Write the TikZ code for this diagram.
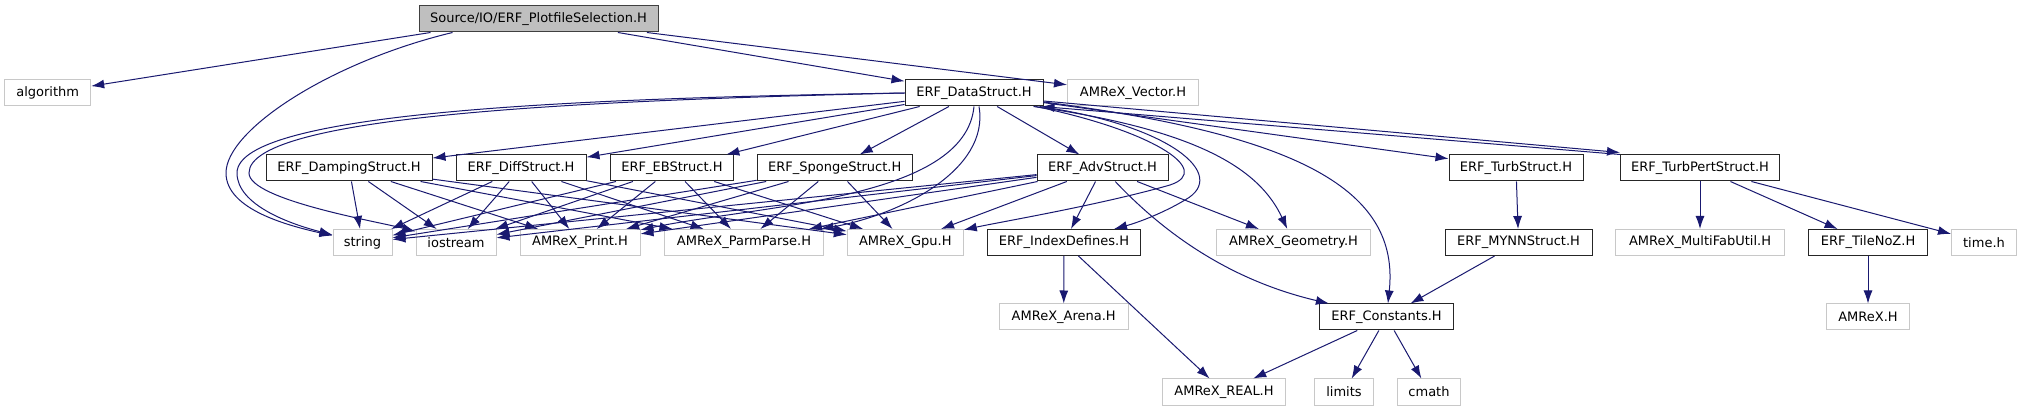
\documentclass[tikz,border=0pt]{standalone}
\usepackage{fontspec}
\setmainfont{DejaVu Sans}
\usetikzlibrary{arrows.meta}
\definecolor{edgeblue}{HTML}{191970}
\definecolor{rootfill}{HTML}{BFBFBF}
\definecolor{rootline}{HTML}{404040}
\definecolor{extline}{HTML}{C8C8C8}

\begin{document}
\begin{tikzpicture}[x=1pt,y=-1pt,
    every node/.style={font=\fontsize{13}{15}\selectfont, inner sep=0pt, minimum height=26pt},
    rootbox/.style={draw=rootline, line width=1pt, fill=rootfill},
    erfbox/.style={draw=black!85, line width=1pt, fill=white},
    extbox/.style={draw=extline, line width=1pt, fill=white},
    dep/.style={color=edgeblue, line width=1pt, -{Latex[length=13pt,width=9pt]}}]
    \fill[white] (0,0) rectangle (2021,411);
    \useasboundingbox (0,0) rectangle (2021,411);
    % Dibuja los nodos
    \node[rootbox, minimum width=239pt] (src) at (538.5,19) {Source/IO/ERF\_PlotfileSelection.H};
    \node[extbox, minimum width=86pt] (algo) at (47.7,93) {algorithm};
    \node[erfbox, minimum width=138pt] (data) at (974,93) {ERF\_DataStruct.H};
    \node[extbox, minimum width=131pt] (vec) at (1133,93) {AMReX\_Vector.H};
    \node[erfbox, minimum width=166pt] (damp) at (349,168) {ERF\_DampingStruct.H};
    \node[erfbox, minimum width=130pt] (diff) at (521,168) {ERF\_DiffStruct.H};
    \node[erfbox, minimum width=123pt] (eb) at (672,168) {ERF\_EBStruct.H};
    \node[erfbox, minimum width=155pt] (sponge) at (834.7,168) {ERF\_SpongeStruct.H};
    \node[erfbox, minimum width=131pt] (adv) at (1102.5,168) {ERF\_AdvStruct.H};
    \node[erfbox, minimum width=134pt] (turb) at (1516,168) {ERF\_TurbStruct.H};
    \node[erfbox, minimum width=159pt] (pert) at (1700,168) {ERF\_TurbPertStruct.H};
    \node[extbox, minimum width=59pt] (str) at (362.5,242.5) {string};
    \node[extbox, minimum width=80pt] (ios) at (456,242.5) {iostream};
    \node[extbox, minimum width=120pt] (prn) at (580,242.5) {AMReX\_Print.H};
    \node[extbox, minimum width=159pt] (parm) at (744,242.5) {AMReX\_ParmParse.H};
    \node[extbox, minimum width=116pt] (gpu) at (905.3,242.5) {AMReX\_Gpu.H};
    \node[erfbox, minimum width=153pt] (idx) at (1064,242.5) {ERF\_IndexDefines.H};
    \node[extbox, minimum width=154pt] (geo) at (1293.5,242.5) {AMReX\_Geometry.H};
    \node[erfbox, minimum width=147pt] (mynn) at (1518.5,242.5) {ERF\_MYNNStruct.H};
    \node[extbox, minimum width=169pt] (mfu) at (1700,242.5) {AMReX\_MultiFabUtil.H};
    \node[erfbox, minimum width=119pt] (tile) at (1868,242.5) {ERF\_TileNoZ.H};
    \node[extbox, minimum width=65pt] (time) at (1984,242.5) {time.h};
    \node[extbox, minimum width=129pt] (arena) at (1063.7,317) {AMReX\_Arena.H};
    \node[erfbox, minimum width=134pt] (const) at (1386.5,317) {ERF\_Constants.H};
    \node[extbox, minimum width=83pt] (amrex) at (1868,317) {AMReX.H};
    \node[extbox, minimum width=123pt] (real) at (1224,392) {AMReX\_REAL.H};
    \node[extbox, minimum width=59pt] (lim) at (1344,392) {limits};
    \node[extbox, minimum width=63pt] (cmath) at (1429,392) {cmath};
    % Dibuja las flechas del fichero principal
    \draw[dep] ([xshift=12pt]src.south west) -- (algo);
    \draw[dep] ([xshift=34pt]src.south west) .. controls (330,62) and (226,130) .. (226,173)
        .. controls (226,210) and (290,226) .. (str);
    \draw[dep] (src) -- (data);
    \draw[dep] (src) -- (vec);
    % Dibuja las flechas de ERF_DataStruct.H
    \draw[dep] (data.west) .. controls (600,98) and (237,110) .. (237,173)
        .. controls (237,205) and (290,224) .. (str);
    \draw[dep] (data.west) .. controls (600,100) and (249,114) .. (249,173)
        .. controls (249,200) and (380,222) .. (ios);
    \draw[dep] (data) -- (damp);
    \draw[dep] (data) -- (diff);
    \draw[dep] (data) -- (eb);
    \draw[dep] (data) -- (sponge);
    \draw[dep] (data) -- (adv);
    \draw[dep] (data) -- (turb);
    \draw[dep] (data.south) .. controls (965,200) and (760,205) .. (prn);
    \draw[dep] ([xshift=5pt]data.south) .. controls (990,170) and (900,215) .. (parm);
    \draw[dep] ([xshift=-8pt]data.south east) .. controls (1150,130) and (1215,170) .. (1170,185)
        .. controls (1100,205) and (1000,222) .. (gpu);
    \draw[dep] ([xshift=-4pt]data.south east) .. controls (1170,125) and (1230,175) .. (1185,200)
        .. controls (1165,212) and (1140,222) .. (idx);
    \draw[dep] ([xshift=-10pt]data.south east) .. controls (1200,130) and (1260,170) .. (geo);
    \draw[dep] (data) .. controls (1300,135) and (1400,190) .. (const);
    \draw[dep] ([yshift=-8pt]data.east) -- ([yshift=2pt]pert.north west);
    \draw[dep] (pert.north west) -- ([xshift=-2pt]data.south east);
    % Dibuja las flechas de las cabeceras intermedias
    \foreach \s in {damp,diff,eb,sponge,adv}
        \foreach \t in {str,ios,prn,parm,gpu}
            \draw[dep] (\s) -- (\t);
    \draw[dep] (adv) -- (idx);
    \draw[dep] (adv) -- (geo);
    \draw[dep] (adv) .. controls (1180,250) and (1250,285) .. (const);
    \draw[dep] (turb) -- (mynn);
    \draw[dep] (mynn) -- (const);
    \draw[dep] (pert) -- (mfu);
    \draw[dep] (pert) -- (tile);
    \draw[dep] (pert) -- (time);
    \draw[dep] (tile) -- (amrex);
    \draw[dep] (idx) -- (arena);
    \draw[dep] (idx) -- (real);
    \draw[dep] (const) -- (real);
    \draw[dep] (const) -- (lim);
    \draw[dep] (const) -- (cmath);
\end{tikzpicture}
\end{document}
